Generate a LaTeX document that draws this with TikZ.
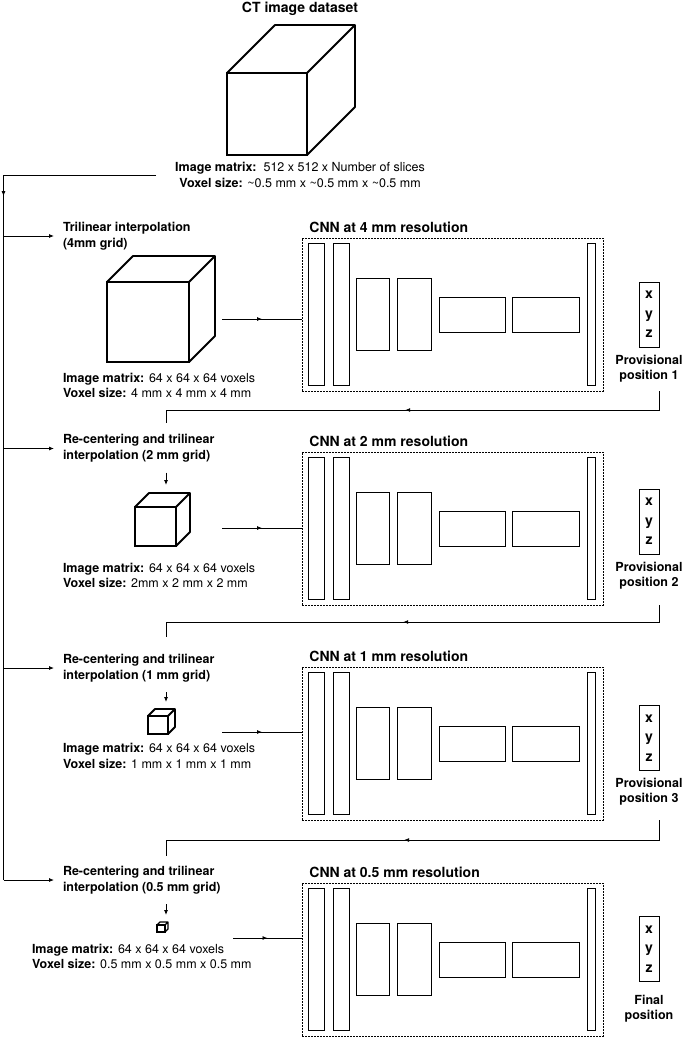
\documentclass[tikz,border=0pt]{standalone}
\usepackage{fontspec}
\setmainfont{TeX Gyre Heros}
\usetikzlibrary{arrows.meta}
\usetikzlibrary{decorations.markings}
\usetikzlibrary{positioning}

\begin{document}
\begin{tikzpicture}[x=1pt, y=-1pt, >={Latex[length=5pt, width=4pt]}, line width=0.8pt,
	body/.style={inner sep=0pt, outer sep=0pt, font=\fontsize{12.5}{15.5}\selectfont},
	info node/.style={body, align=left, anchor=west},
	interp node/.style={body, align=left, anchor=west, font=\bfseries\fontsize{12.5}{16}\selectfont},
	title node/.style={inner sep=0pt, font=\bfseries\fontsize{14}{17}\selectfont},
	cube face/.style={rectangle, draw, line width=1.8pt, inner sep=0pt, outer sep=0pt},
	cube edge/.style={line width=1.8pt, line join=round},
	cnn box/.style={rectangle, draw, dash pattern=on 2pt off 1pt, line width=0.6pt, minimum width=301pt, minimum height=153pt, inner sep=0pt, outer sep=0pt},
	layer/.style={rectangle, draw, line width=0.9pt, inner sep=0pt, outer sep=0pt},
	layer tall/.style={layer, minimum width=16pt, minimum height=142pt},
	layer mid/.style={layer, minimum width=33.5pt, minimum height=71.5pt},
	layer flat/.style={layer, minimum width=66.5pt, minimum height=35pt},
	layer thin/.style={layer, minimum width=8pt, minimum height=142pt},
	xyz node/.style={rectangle, draw, line width=0.9pt, inner sep=0pt, minimum width=20pt, minimum height=65pt, align=center, font=\bfseries\fontsize{14}{19.5}\selectfont},
	pos node/.style={inner sep=0pt, align=center, font=\bfseries\fontsize{12.5}{15}\selectfont},
	mid arrow/.style={postaction={decorate}, decoration={markings, mark=at position #1 with {\arrow{>}}}},
]
\useasboundingbox (0,0) rectangle (685,1038);
% CT dataset
\node [title node] (ct) at (300, 9) {CT image dataset};
\node [cube face, minimum width=80pt, minimum height=82pt] (cube1) at (267, 114) {};
\draw [cube edge] (cube1.north west) -- ++(48,-48) -- ++(80,0) -- ++(0,82) -- (cube1.south east)
	(cube1.north east) -- ++(48,-48);
\node [body, align=center] (ctinfo) at (300, 175) {\textbf{Image matrix:}\ \ 512 x 512 x Number of slices\\\textbf{Voxel size:} \textasciitilde0.5 mm x \textasciitilde0.5 mm x \textasciitilde0.5 mm};
%
\node [interp node] (interp1) at (63, 236) {Trilinear interpolation\\(4mm grid)};
\node [cube face, minimum width=82pt, minimum height=80pt] (cube2) at (148, 322) {};
\draw [cube edge] (cube2.north west) -- ++(26,-26) -- ++(82,0) -- ++(0,80) -- (cube2.south east)
	(cube2.north east) -- ++(26,-26);
\node [info node] (info1) at (63, 385.5) {\textbf{Image matrix:} 64 x 64 x 64 voxels\\\textbf{Voxel size:} 4 mm x 4 mm x 4 mm};
\coordinate (in1) at (222, 319);
\node [cnn box] (cnn1) at (452.5, 314.5) {};
\node [title node] (cnnt1) [above right=5pt and 7pt of cnn1.north west] {CNN at 4 mm resolution};
\node [layer tall] (c1a) [right=6pt of cnn1.west] {};
\node [layer tall] (c1b) [right=9pt of c1a] {};
\node [layer mid]  (c1c) [right=7pt of c1b] {};
\node [layer mid]  (c1d) [right=8pt of c1c] {};
\node [layer flat] (c1e) [right=8pt of c1d] {};
\node [layer flat] (c1f) [right=7pt of c1e] {};
\node [layer thin] (c1g) [left=8pt of cnn1.east] {};
\node [xyz node] (xyz1) at (649, 314.5) {x\\y\\z};
\node [pos node] (pos1) [below=7pt of xyz1] {Provisional\\position 1};
%
\node [interp node] (interp2) at (63, 448.5) {Re-centering and trilinear\\interpolation (2 mm grid)};
\node [cube face, minimum width=41pt, minimum height=39pt] (cube3) at (155.5, 526.5) {};
\draw [cube edge] (cube3.north west) -- ++(14,-14) -- ++(41,0) -- ++(0,39) -- (cube3.south east)
	(cube3.north east) -- ++(14,-14);
\node [info node] (info2) at (63, 575.5) {\textbf{Image matrix:} 64 x 64 x 64 voxels\\\textbf{Voxel size:} 2mm x 2 mm x 2 mm};
\coordinate (in2) at (222, 528);
\coordinate (fb2) at (166, 423);
\node [cnn box] (cnn2) at (452.5, 528.5) {};
\node [title node] (cnnt2) [above right=5pt and 7pt of cnn2.north west] {CNN at 2 mm resolution};
\node [layer tall] (c2a) [right=6pt of cnn2.west] {};
\node [layer tall] (c2b) [right=9pt of c2a] {};
\node [layer mid]  (c2c) [right=7pt of c2b] {};
\node [layer mid]  (c2d) [right=8pt of c2c] {};
\node [layer flat] (c2e) [right=8pt of c2d] {};
\node [layer flat] (c2f) [right=7pt of c2e] {};
\node [layer thin] (c2g) [left=8pt of cnn2.east] {};
\node [xyz node] (xyz2) at (649, 521.5) {x\\y\\z};
\node [pos node] (pos2) [below=7pt of xyz2] {Provisional\\position 2};
%
\node [interp node] (interp3) at (63, 668) {Re-centering and trilinear\\interpolation (1 mm grid)};
\node [cube face, minimum width=20pt, minimum height=18pt] (cube4) at (158, 725) {};
\draw [cube edge] (cube4.north west) -- ++(7,-7) -- ++(20,0) -- ++(0,18) -- (cube4.south east)
	(cube4.north east) -- ++(7,-7);
\node [info node] (info3) at (63, 756) {\textbf{Image matrix:} 64 x 64 x 64 voxels\\\textbf{Voxel size:} 1 mm x 1 mm x 1 mm};
\coordinate (in3) at (222, 732);
\coordinate (fb3) at (166, 637);
\node [cnn box] (cnn3) at (452.5, 743.5) {};
\node [title node] (cnnt3) [above right=5pt and 7pt of cnn3.north west] {CNN at 1 mm resolution};
\node [layer tall] (c3a) [right=6pt of cnn3.west] {};
\node [layer tall] (c3b) [right=9pt of c3a] {};
\node [layer mid]  (c3c) [right=7pt of c3b] {};
\node [layer mid]  (c3d) [right=8pt of c3c] {};
\node [layer flat] (c3e) [right=8pt of c3d] {};
\node [layer flat] (c3f) [right=7pt of c3e] {};
\node [layer thin] (c3g) [left=8pt of cnn3.east] {};
\node [xyz node] (xyz3) at (649, 738) {x\\y\\z};
\node [pos node] (pos3) [below=7pt of xyz3] {Provisional\\position 3};
%
\node [interp node] (interp4) at (63, 880) {Re-centering and trilinear\\interpolation (0.5 mm grid)};
\node [cube face, line width=1.3pt, minimum width=8pt, minimum height=7pt] (cube5) at (161, 928.5) {};
\draw [cube edge, line width=1.3pt] (cube5.north west) -- ++(3,-3) -- ++(8,0) -- ++(0,7) -- (cube5.south east)
	(cube5.north east) -- ++(3,-3);
\node [info node] (info4) at (32, 956.5) {\textbf{Image matrix:} 64 x 64 x 64 voxels\\\textbf{Voxel size:} 0.5 mm x 0.5 mm x 0.5 mm};
\coordinate (in4) at (233, 938);
\coordinate (fb4) at (166, 856);
\node [cnn box] (cnn4) at (452.5, 959.5) {};
\node [title node] (cnnt4) [above right=5pt and 7pt of cnn4.north west] {CNN at 0.5 mm resolution};
\node [layer tall] (c4a) [right=6pt of cnn4.west] {};
\node [layer tall] (c4b) [right=9pt of c4a] {};
\node [layer mid]  (c4c) [right=7pt of c4b] {};
\node [layer mid]  (c4d) [right=8pt of c4c] {};
\node [layer flat] (c4e) [right=8pt of c4d] {};
\node [layer flat] (c4f) [right=7pt of c4e] {};
\node [layer thin] (c4g) [left=8pt of cnn4.east] {};
\node [xyz node] (xyz4) at (649, 949) {x\\y\\z};
\node [pos node] (pos4) [below=13pt of xyz4] {Final\\position};
%
\coordinate (trunk) at (3.5, 880);
\draw [mid arrow=0.22, shorten <=19pt] (ctinfo.west) -| (trunk);
\draw [->, shorten >=9pt] (interp1.west -| trunk) -- (interp1.west);
\draw [->, shorten >=9pt] (interp2.west -| trunk) -- (interp2.west);
\draw [->, shorten >=9pt] (interp3.west -| trunk) -- (interp3.west);
\draw [->, shorten >=9pt] (trunk) -- (interp4.west);
\draw [->, shorten <=10pt, shorten >=22pt] (interp2.south -| fb2) -- (cube3.north -| fb2);
\draw [->, shorten <=10pt, shorten >=14pt] (interp3.south -| fb2) -- (cube4.north -| fb2);
\draw [->, shorten <=10pt, shorten >=10pt] (interp4.south -| fb2) -- (cube5.north -| fb2);
\draw [mid arrow=0.5] (in1) -- (in1 -| cnn1.west);
\draw [mid arrow=0.5] (in2) -- (in2 -| cnn2.west);
\draw [mid arrow=0.5] (in3) -- (in3 -| cnn3.west);
\draw [mid arrow=0.5] (in4) -- (in4 -| cnn4.west);
\draw [mid arrow=0.52] (xyz1.east |- cnn1.south) -- ++(0,19) -| (fb2);
\draw [mid arrow=0.52] (xyz2.east |- cnn2.south) -- ++(0,17) -| (fb3);
\draw [mid arrow=0.52] (xyz3.east |- cnn3.south) -- ++(0,20) -| (fb4);
\end{tikzpicture}
\end{document}
